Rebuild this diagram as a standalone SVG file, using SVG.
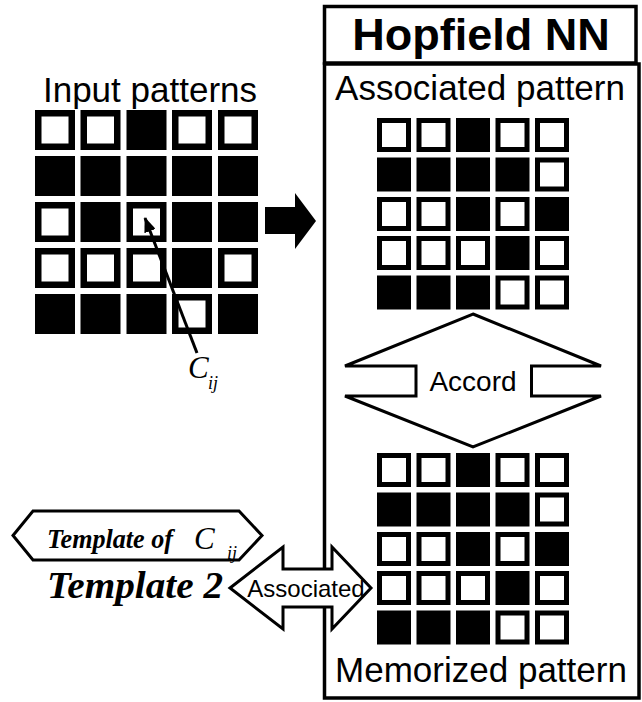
<svg xmlns="http://www.w3.org/2000/svg" xmlns:xlink="http://www.w3.org/1999/xlink" width="642" height="702" viewBox="0 0 642 702">
  <style>
    .sans { font-family: "Liberation Sans", Arial, sans-serif; fill: #000; }
    .serif { font-family: "Liberation Serif", "Times New Roman", serif; fill: #000; }
    .box { fill: #fff; stroke: #000; stroke-width: 3.5; }
    .outline { fill: #fff; stroke: #000; stroke-width: 3; stroke-linejoin: miter; }
  </style>
  <defs>
    <!-- large cells (input grid) -->
    <rect id="bigOn" width="40" height="40" fill="#000"/>
    <rect id="bigOff" x="3.25" y="3.25" width="33.5" height="33.5" fill="#fff" stroke="#000" stroke-width="6.5"/>
    <!-- small cells (network grids) -->
    <rect id="smOn" width="34" height="34" fill="#000"/>
    <rect id="smOff" x="2.5" y="2.5" width="29" height="29" fill="#fff" stroke="#000" stroke-width="5"/>
    <marker id="head" viewBox="0 0 15 12" refX="14" refY="6" markerWidth="15" markerHeight="12" orient="auto" markerUnits="userSpaceOnUse">
      <path d="M0,0 L15,6 L0,12 z" fill="#000"/>
    </marker>
  </defs>

  <rect width="642" height="702" fill="#fff"/>

  <!-- Input patterns -->
  <g id="input-patterns">
    <text class="sans" x="150" y="102" font-size="35" text-anchor="middle">Input patterns</text>
    <use xlink:href="#bigOff" x="35" y="110"/>
    <use xlink:href="#bigOff" x="80.5" y="110"/>
    <use xlink:href="#bigOn" x="126.5" y="110"/>
    <use xlink:href="#bigOff" x="172" y="110"/>
    <use xlink:href="#bigOff" x="218" y="110"/>

    <use xlink:href="#bigOn" x="35" y="156"/>
    <use xlink:href="#bigOn" x="80.5" y="156"/>
    <use xlink:href="#bigOn" x="126.5" y="156"/>
    <use xlink:href="#bigOn" x="172" y="156"/>
    <use xlink:href="#bigOn" x="218" y="156"/>

    <use xlink:href="#bigOff" x="35" y="202"/>
    <use xlink:href="#bigOn" x="80.5" y="202"/>
    <use xlink:href="#bigOff" x="126.5" y="202"/>
    <use xlink:href="#bigOn" x="172" y="202"/>
    <use xlink:href="#bigOn" x="218" y="202"/>

    <use xlink:href="#bigOff" x="35" y="248"/>
    <use xlink:href="#bigOff" x="80.5" y="248"/>
    <use xlink:href="#bigOff" x="126.5" y="248"/>
    <use xlink:href="#bigOn" x="172" y="248"/>
    <use xlink:href="#bigOff" x="218" y="248"/>

    <use xlink:href="#bigOn" x="35" y="294"/>
    <use xlink:href="#bigOn" x="80.5" y="294"/>
    <use xlink:href="#bigOn" x="126.5" y="294"/>
    <use xlink:href="#bigOff" x="172" y="294"/>
    <use xlink:href="#bigOn" x="218" y="294"/>
  </g>

  <!-- C_ij label -->
  <g id="cij-label">
    <text class="serif" x="188" y="378" font-size="31" font-style="italic">C</text>
    <text class="serif" x="208" y="389" font-size="18" font-style="italic">ij</text>
  </g>

  <!-- Hopfield NN container -->
  <g id="hopfield">
    <rect class="box" x="324.5" y="64" width="314.5" height="634"/>
    <rect class="box" x="324.5" y="6.5" width="311.5" height="56.5"/>
    <text class="sans" x="481" y="50" font-size="45" font-weight="bold" text-anchor="middle">Hopfield NN</text>
  </g>

  <!-- Associated pattern grid -->
  <g id="associated-pattern">
    <text class="sans" x="480" y="100" font-size="35" text-anchor="middle">Associated pattern</text>
    <use xlink:href="#smOff" x="377" y="118"/>
    <use xlink:href="#smOff" x="416.5" y="118"/>
    <use xlink:href="#smOn" x="456" y="118"/>
    <use xlink:href="#smOff" x="495.5" y="118"/>
    <use xlink:href="#smOff" x="535" y="118"/>

    <use xlink:href="#smOn" x="377" y="157.5"/>
    <use xlink:href="#smOn" x="416.5" y="157.5"/>
    <use xlink:href="#smOn" x="456" y="157.5"/>
    <use xlink:href="#smOn" x="495.5" y="157.5"/>
    <use xlink:href="#smOff" x="535" y="157.5"/>

    <use xlink:href="#smOff" x="377" y="197"/>
    <use xlink:href="#smOff" x="416.5" y="197"/>
    <use xlink:href="#smOn" x="456" y="197"/>
    <use xlink:href="#smOff" x="495.5" y="197"/>
    <use xlink:href="#smOn" x="535" y="197"/>

    <use xlink:href="#smOff" x="377" y="236"/>
    <use xlink:href="#smOff" x="416.5" y="236"/>
    <use xlink:href="#smOff" x="456" y="236"/>
    <use xlink:href="#smOn" x="495.5" y="236"/>
    <use xlink:href="#smOff" x="535" y="236"/>

    <use xlink:href="#smOn" x="377" y="275.5"/>
    <use xlink:href="#smOn" x="416.5" y="275.5"/>
    <use xlink:href="#smOn" x="456" y="275.5"/>
    <use xlink:href="#smOff" x="495.5" y="275.5"/>
    <use xlink:href="#smOff" x="535" y="275.5"/>
  </g>

  <!-- Accord double arrow -->
  <g id="accord">
    <polygon class="outline" points="473,314 601,366 531.5,366 531.5,396 601,396 473,447 345,396 416,396 416,366 345,366"/>
    <text class="sans" x="473" y="391" font-size="28" text-anchor="middle">Accord</text>
  </g>

  <!-- Memorized pattern grid -->
  <g id="memorized-pattern">
    <use xlink:href="#smOff" x="377" y="453"/>
    <use xlink:href="#smOff" x="416.5" y="453"/>
    <use xlink:href="#smOn" x="456" y="453"/>
    <use xlink:href="#smOff" x="495.5" y="453"/>
    <use xlink:href="#smOff" x="535" y="453"/>

    <use xlink:href="#smOn" x="377" y="492.5"/>
    <use xlink:href="#smOn" x="416.5" y="492.5"/>
    <use xlink:href="#smOn" x="456" y="492.5"/>
    <use xlink:href="#smOn" x="495.5" y="492.5"/>
    <use xlink:href="#smOff" x="535" y="492.5"/>

    <use xlink:href="#smOff" x="377" y="532"/>
    <use xlink:href="#smOff" x="416.5" y="532"/>
    <use xlink:href="#smOn" x="456" y="532"/>
    <use xlink:href="#smOff" x="495.5" y="532"/>
    <use xlink:href="#smOn" x="535" y="532"/>

    <use xlink:href="#smOff" x="377" y="571"/>
    <use xlink:href="#smOff" x="416.5" y="571"/>
    <use xlink:href="#smOff" x="456" y="571"/>
    <use xlink:href="#smOn" x="495.5" y="571"/>
    <use xlink:href="#smOff" x="535" y="571"/>

    <use xlink:href="#smOn" x="377" y="610.5"/>
    <use xlink:href="#smOn" x="416.5" y="610.5"/>
    <use xlink:href="#smOn" x="456" y="610.5"/>
    <use xlink:href="#smOff" x="495.5" y="610.5"/>
    <use xlink:href="#smOff" x="535" y="610.5"/>
    <text class="sans" x="481" y="682" font-size="35" text-anchor="middle">Memorized pattern</text>
  </g>

  <!-- Template labels -->
  <g id="template-of-cij">
    <polygon class="outline" points="13,535.5 33,511 239,511 262,535.5 239,560 33,560"/>
    <text class="serif" x="47" y="548" font-size="28" font-weight="bold" font-style="italic" textLength="126" lengthAdjust="spacingAndGlyphs">Template of</text>
    <text class="serif" x="194" y="549" font-size="31" font-style="italic">C</text>
    <text class="serif" x="227" y="559" font-size="18" font-style="italic">ij</text>
  </g>
  <g id="template-2">
    <text class="serif" x="47" y="598" font-size="37" font-weight="bold" font-style="italic" textLength="176" lengthAdjust="spacingAndGlyphs">Template 2</text>
  </g>

  <!-- Connectors -->
  <g id="connectors">
    <!-- pointer to the C_ij cell -->
    <line x1="197" y1="353" x2="145" y2="218" stroke="#000" stroke-width="3" marker-end="url(#head)"/>
    <!-- input to network -->
    <polygon points="265,207 295,207 295,193 316,221 295,249 295,234 265,234" fill="#000"/>
    <!-- associated double arrow -->
    <g id="associated-link">
      <polygon class="outline" points="230,588 283,547 283,569 332,569 332,547 371,588 332,629 332,607 283,607 283,629"/>
      <text class="sans" x="306" y="597" font-size="24" text-anchor="middle">Associated</text>
    </g>
  </g>
</svg>
